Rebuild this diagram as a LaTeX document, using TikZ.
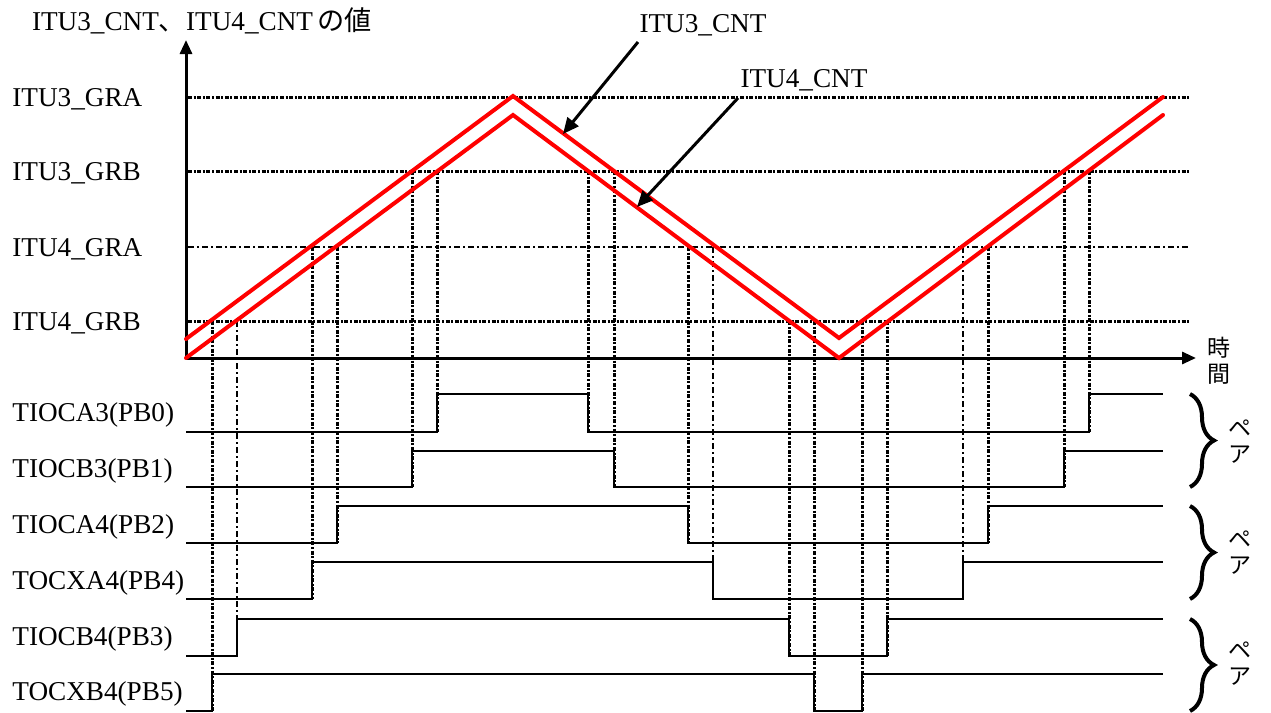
\documentclass[tikz,border=0pt]{standalone}
\usepackage{fontspec}
\setmainfont{Liberation Serif}
\newfontfamily\jp{Noto Sans CJK JP}
\usetikzlibrary{arrows.meta,decorations.pathreplacing}
\begin{document}
\begin{tikzpicture}[x=0.5pt,y=-0.5pt,
  lbl/.style={font=\fontsize{13.6}{15}\selectfont, inner sep=0pt},
  ylbl/.style={lbl, anchor=west},
  jlbl/.style={font=\jp\fontsize{11.5}{13}\selectfont, inner sep=0pt},
  axis/.style={line width=1.5pt, -{Triangle[length=7pt,width=6pt]}},
  cnt/.style={draw=red, line width=2pt, line cap=round, line join=miter},
  wave/.style={line width=1.1pt, line join=miter},
  guide/.style={line width=1.5pt, dash pattern=on 2pt off 0.8pt on 1pt off 0.8pt},
  thinguide/.style={line width=0.55pt, dash pattern=on 3pt off 1.5pt on 1pt off 1.5pt},
  callout/.style={line width=1.5pt, -{Triangle[length=8pt,width=7pt]}},
  pairbrace/.style={decorate, decoration={brace, amplitude=12pt}, line width=2pt}]
\useasboundingbox (0,0) rectangle (1271,713);

% axes
\coordinate (O) at (186,358);
\coordinate (ytip) at (186,40);
\coordinate (xtip) at (1196,358);

% horizontal reference levels
\coordinate (gra3a) at (188,97);  \coordinate (gra3b) at (1190,97);
\coordinate (grb3a) at (188,171); \coordinate (grb3b) at (1190,171);
\coordinate (gra4a) at (188,247); \coordinate (gra4b) at (1190,247);
\coordinate (grb4a) at (188,321); \coordinate (grb4b) at (1190,321);
\draw[guide] (gra3a) -- (gra3b);
\draw[guide] (grb3a) -- (grb3b);
\draw[thinguide] (gra4a) -- (gra4b);
\draw[guide] (grb4a) -- (grb4b);

% vertical guides
\foreach \x/\yt/\yb in {212/321/711, 312/247/599, 337/247/543, 412/171/487, 437/171/432,
  588/171/432, 614/171/487, 688/247/543, 789/321/656, 814/321/711, 862/321/711,
  887/321/656, 988/247/543, 1064/171/487, 1089/171/432}
  \draw[guide] (\x,\yt) -- (\x,\yb);
\foreach \x/\yt/\yb in {237/321/656, 713/247/599, 963/247/599}
  \draw[thinguide] (\x,\yt) -- (\x,\yb);

\draw[axis] (O) -- (ytip);
\draw[axis] (O) -- (xtip);

% counters
\coordinate (c3s) at (186,339); \coordinate (c3p) at (513,96);
\coordinate (c3v) at (839,338); \coordinate (c3e) at (1163,97);
\coordinate (c4s) at (186,358); \coordinate (c4p) at (513,115);
\coordinate (c4v) at (839,358); \coordinate (c4e) at (1163,115);
\draw[cnt] (c3s) -- (c3p) -- (c3v) -- (c3e);
\draw[cnt] (c4s) -- (c4p) -- (c4v) -- (c4e);

% labels
\node[lbl] (title) at (202,21) {ITU3\_CNT{\jp 、}ITU4\_CNT\,{\jp の値}};
\node[ylbl] (lgra3) at (12,99) {ITU3\_GRA};
\node[ylbl] (lgrb3) at (12,173) {ITU3\_GRB};
\node[ylbl] (lgra4) at (12,249) {ITU4\_GRA};
\node[ylbl] (lgrb4) at (12,323) {ITU4\_GRB};
\node[jlbl, align=center] (time) at (1219,361) {時\\間};

\node[lbl] (n3) at (703,25) {ITU3\_CNT};
\node[lbl] (n4) at (804,80) {ITU4\_CNT};
\coordinate (n3tail) at (638,42);
\coordinate (n3tip) at (563,134);
\coordinate (n4tail) at (738,98);
\coordinate (n4tip) at (637,207);
\draw[callout] (n3tail) -- (n3tip);
\draw[callout] (n4tail) -- (n4tip);

% waveforms
\node[ylbl] (w1) at (12,415) {TIOCA3(PB0)};
\node[ylbl] (w2) at (12,471) {TIOCB3(PB1)};
\node[ylbl] (w3) at (12,527) {TIOCA4(PB2)};
\node[ylbl] (w4) at (12,583) {TOCXA4(PB4)};
\node[ylbl] (w5) at (12,639) {TIOCB4(PB3)};
\node[ylbl] (w6) at (12,694) {TOCXB4(PB5)};

\draw[wave] (186,432) -- (437,432) -- (437,394) -- (588,394) -- (588,432) -- (1089,432) -- (1089,394) -- (1163,394);
\draw[wave] (186,487) -- (412,487) -- (412,451) -- (614,451) -- (614,487) -- (1064,487) -- (1064,451) -- (1163,451);
\draw[wave] (186,543) -- (337,543) -- (337,506) -- (688,506) -- (688,543) -- (988,543) -- (988,506) -- (1163,506);
\draw[wave] (186,599) -- (312,599) -- (312,562) -- (713,562) -- (713,599) -- (963,599) -- (963,562) -- (1163,562);
\draw[wave] (186,656) -- (237,656) -- (237,619) -- (789,619) -- (789,656) -- (887,656) -- (887,619) -- (1163,619);
\draw[wave] (186,711) -- (212,711) -- (212,674) -- (814,674) -- (814,711) -- (862,711) -- (862,674) -- (1163,674);

% pair braces
\coordinate (b1t) at (1190,394); \coordinate (b1b) at (1190,487);
\coordinate (b2t) at (1190,506); \coordinate (b2b) at (1190,599);
\coordinate (b3t) at (1190,619); \coordinate (b3b) at (1190,711);
\draw[pairbrace] (b1t) -- (b1b);
\draw[pairbrace] (b2t) -- (b2b);
\draw[pairbrace] (b3t) -- (b3b);
\node[jlbl, align=center] (p1) at (1240,442) {ペ\\ア};
\node[jlbl, align=center] (p2) at (1240,553) {ペ\\ア};
\node[jlbl, align=center] (p3) at (1240,664) {ペ\\ア};
\end{tikzpicture}
\end{document}
